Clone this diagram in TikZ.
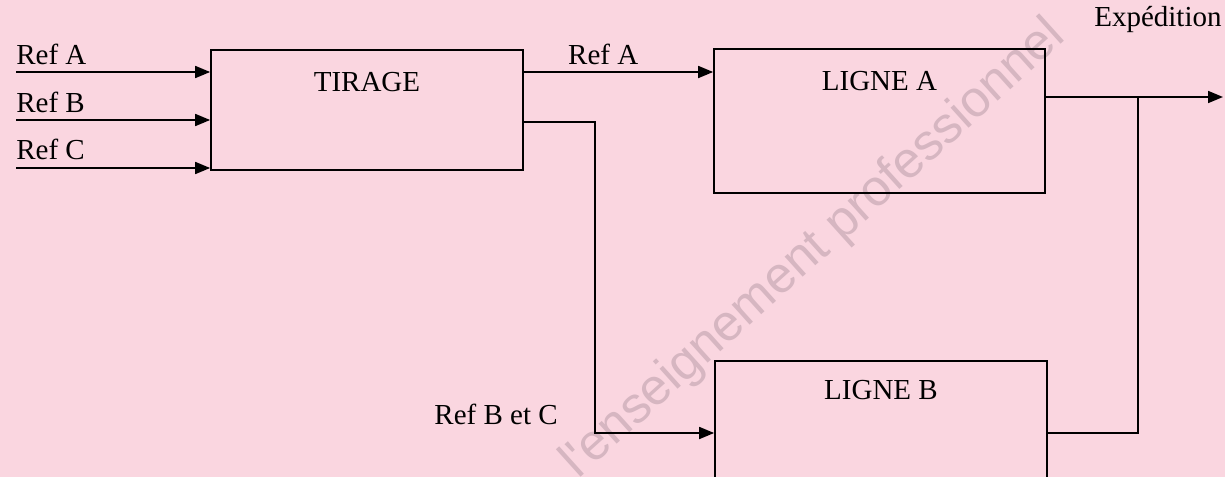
\documentclass[tikz,border=0pt]{standalone}
\usepackage{fontspec}
\setmainfont{Liberation Serif}
\newfontfamily\wmfont{Liberation Sans}
\usetikzlibrary{positioning,arrows.meta}
\definecolor{bgpink}{RGB}{250,214,224}
\definecolor{wmgray}{RGB}{214,182,193}

\begin{document}
\begin{tikzpicture}[x=0.02cm,y=-0.02cm,
  every node/.style={font=\fontsize{16.5}{20}\selectfont},
  box/.style={draw,line width=1pt,inner sep=0pt},
  boxtitle/.style={yshift=-0.66cm,inner sep=0pt},
  lbl/.style={inner sep=0pt},
  flow/.style={line width=1pt,-{Triangle[length=0.3cm,width=0.24cm]}},
  link/.style={line width=1pt}]
\useasboundingbox (0,0) rectangle (1225,477);
\fill[bgpink] (0,0) rectangle (1225,477);
% watermark
\node[wmgray,font=\wmfont\fontsize{29}{30}\selectfont,rotate=42,anchor=base west,inner sep=0pt] (wm) at (578,480) {l'enseignement professionnel};
% blocks
\node[box,minimum width=6.24cm,minimum height=2.4cm] (tirage) at (367,110) {};
\node[box,minimum width=6.62cm,minimum height=2.88cm] (lignea) at (879.5,121) {};
\node[box,minimum width=6.64cm,minimum height=2.88cm] (ligneb) at (881,433) {};
\node[boxtitle] (tiragettl) at (tirage.north) {TIRAGE};
\node[boxtitle] (ligneattl) at (lignea.north) {LIGNE A};
\node[boxtitle,yshift=0.06cm] (lignebttl) at (ligneb.north) {LIGNE B};
% inputs
\coordinate (inA) at (16,72);
\coordinate (inB) at (16,120);
\coordinate (inC) at (16,168);
\draw[flow] (inA) -- (inA -| tirage.west);
\draw[flow] (inB) -- (inB -| tirage.west);
\draw[flow] (inC) -- (inC -| tirage.west);
\node[lbl,above right=0.14cm and 0cm of inA] (lblA) {Ref A};
\node[lbl,above right=0.14cm and 0cm of inB] (lblB) {Ref B};
\node[lbl,above right=0.16cm and 0cm of inC] (lblC) {Ref C};
% tirage -> lignes
\coordinate (refAout) at (tirage.east |- inA);
\draw[flow] (refAout) -- (refAout -| lignea.west);
\node[lbl,above right=0.14cm and 0.88cm of refAout] (lblAmid) {Ref A};
\coordinate (bcturn) at (595,433);
\draw[flow] ([yshift=-0.24cm]tirage.east) -| (bcturn) -- (ligneb.west);
\node[lbl,above left=0.16cm and 0.74cm of bcturn] (lblBC) {Ref B et C};
% expedition
\coordinate (expend) at (1223,97);
\coordinate (junc) at (1138,97);
\draw[flow] (lignea.east |- expend) -- (expend);
\draw[link] (ligneb.east) -| (junc);
\node[lbl,anchor=base west] (explbl) at (1094,26) {Expédition};
\end{tikzpicture}
\end{document}
